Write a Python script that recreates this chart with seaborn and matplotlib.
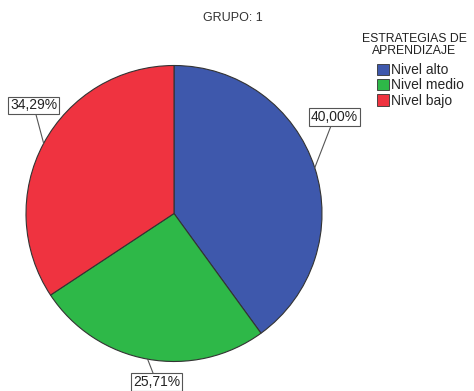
import matplotlib
matplotlib.use('Agg')
import matplotlib.pyplot as plt
import seaborn as sns
import numpy as np

# datos del gráfico
categorias = ['Nivel alto', 'Nivel medio', 'Nivel bajo']
porcentajes = [40.00, 25.71, 34.29]
etiquetas = ['40,00%', '25,71%', '34,29%']
colores = ['#3E58AC', '#2EB848', '#EF3340']

# posición de las etiquetas (coordenadas del eje, radio = 1)
label_pos = [(1.084, 0.652), (-0.118, -1.139), (-0.949, 0.730)]

sns.set_style('white')
plt.rcParams['font.family'] = ['Liberation Sans', 'DejaVu Sans']

fig = plt.figure(figsize=(4.74, 3.91), dpi=100)
W, H = 474, 391
cx, cy, r = 174, 213.5, 148
ax = fig.add_axes([(cx - r) / W, (H - cy - r) / H, 2 * r / W, 2 * r / H])

wedges, _ = ax.pie(porcentajes, colors=colores, startangle=90, counterclock=False,
                   radius=1, wedgeprops=dict(edgecolor='#333333', linewidth=0.8))
ax.set_xlim(-1, 1)
ax.set_ylim(-1, 1)
ax.axis('off')

for w, txt, pos in zip(wedges, etiquetas, label_pos):
    ang = np.deg2rad((w.theta1 + w.theta2) / 2)
    ax.annotate(txt, xy=(np.cos(ang), np.sin(ang)), xytext=pos,
                ha='center', va='center', fontsize=10, color='#222222',
                bbox=dict(boxstyle='square,pad=0.12', fc='white', ec='#555555', lw=0.8),
                arrowprops=dict(arrowstyle='-', color='#555555', lw=0.8,
                                shrinkA=0, shrinkB=0),
                annotation_clip=False)

fig.text(233 / W, 1 - 18 / H, 'GRUPO: 1', ha='center', va='center',
         fontsize=9, color='#333333')
fig.text(414 / W, 1 - 45 / H, 'ESTRATEGIAS DE\nAPRENDIZAJE', ha='center', va='center',
         fontsize=8.8, color='#222222', linespacing=0.95)

handles = [plt.Rectangle((0, 0), 1, 1, fc=c, ec='#333333', lw=0.6) for c in colores]
fig.legend(handles, categorias, loc='upper left', bbox_to_anchor=(377 / W, 1 - 63 / H),
           frameon=False, fontsize=10, handlelength=0.85, handleheight=0.85,
           handletextpad=0.15, labelspacing=0.1, borderpad=0, borderaxespad=0)

fig.savefig('out.png', dpi=100)
